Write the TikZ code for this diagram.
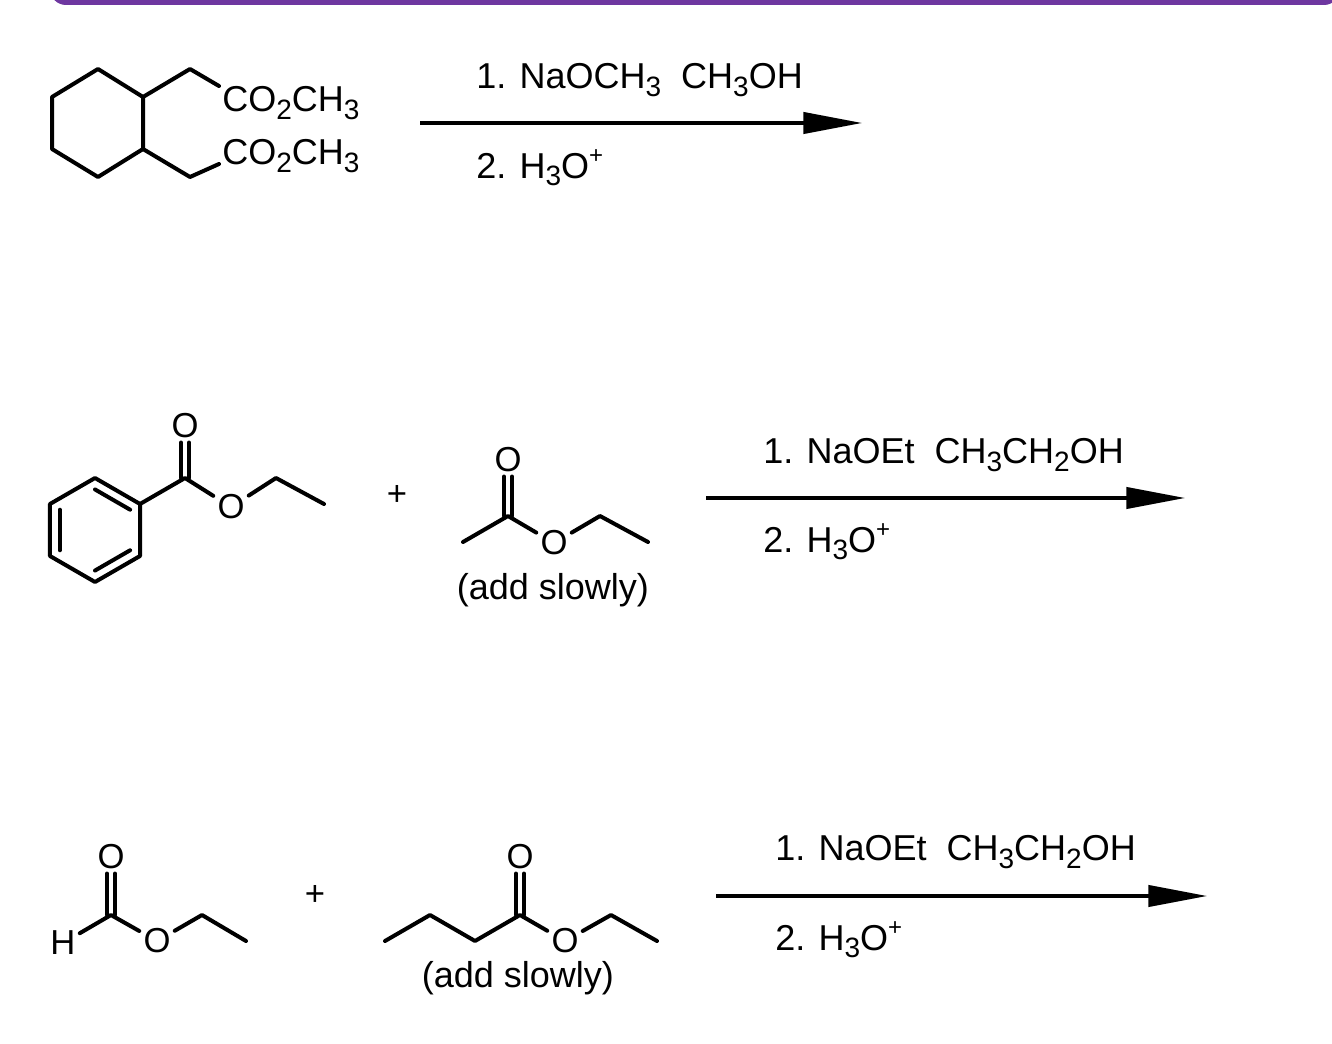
\documentclass[tikz,border=0pt]{standalone}
\usepackage{fontspec}
\setmainfont{Liberation Sans}
\usetikzlibrary{calc,arrows.meta}
\newcommand{\sbs}[1]{\raisebox{-0.22em}{\fontsize{21}{21}\selectfont #1}}
\newcommand{\sps}[1]{\raisebox{0.4em}{\fontsize{18}{18}\selectfont #1}}
\begin{document}
\begin{tikzpicture}[x=0.75pt,y=-0.75pt,
  bond/.style={line width=3pt,line cap=round,line join=round},
  atom/.style={font=\fontsize{26}{30}\selectfont,inner sep=3pt},
  lbl/.style={font=\fontsize{27}{30}\selectfont,inner sep=0pt,anchor=west},
  rxn/.style={line width=2.3pt,-{Stealth[length=44pt,width=16pt,inset=0pt]}}]
\useasboundingbox (0,0) rectangle (1332,1044);
\fill[fill={rgb,255:red,110;green,55;blue,160}] (50,-30) [rounded corners=12pt] -- (50,5) -- (1340,5) [sharp corners] -- (1340,-30) -- cycle;
% ---- reaction 1
\coordinate (h1) at (98,69); \coordinate (h2) at (143,97); \coordinate (h3) at (143,149);
\coordinate (h4) at (98,177); \coordinate (h5) at (52,149); \coordinate (h6) at (52,97);
\draw[bond] (h1)--(h2)--(h3)--(h4)--(h5)--(h6)--cycle;
\coordinate (s1) at (190,69); \coordinate (s2) at (190,177);
\node[lbl] (e1) at (222,103) {CO\sbs{2}CH\sbs{3}};
\node[lbl] (e2) at (222,156) {CO\sbs{2}CH\sbs{3}};
\draw[bond] (h2)--(s1)--($(e1.west)+(-3,-17)$);
\draw[bond] (h3)--(s2)--($(e2.west)+(-3,8)$);
\coordinate (a1s) at (420,123); \coordinate (a1e) at (862,123);
\draw[rxn] (a1s)--(a1e);
\node[lbl] (r1a) at (476,80) {1. NaOCH\sbs{3}\ \ CH\sbs{3}OH};
\node[lbl] (r1b) at (476,168) {2. H\sbs{3}O\sps{+}};
% ---- reaction 2: ethyl benzoate
\coordinate (bc) at (95,530);
\foreach \i/\a in {1/90,2/30,3/-30,4/-90,5/-150,6/150} \coordinate (b\i) at ($(bc)+({52*cos(\a)},{-52*sin(\a)})$);
\draw[bond] (b1)--(b2)--(b3)--(b4)--(b5)--(b6)--cycle;
\draw[bond] ($(bc)!0.78!(b1)$)--($(bc)!0.78!(b2)$);
\draw[bond] ($(bc)!0.78!(b3)$)--($(bc)!0.78!(b4)$);
\draw[bond] ($(bc)!0.78!(b5)$)--($(bc)!0.78!(b6)$);
\coordinate (bk) at (185,478);
\node[atom] (bo) at (185,426) {O};
\node[atom] (bx) at (231,507) {O};
\coordinate (bm) at (276,478); \coordinate (bn) at (324,504);
\draw[bond] (b2)--(bk)--(bx)--(bm)--(bn);
\draw[bond] ([xshift=-3pt]bk) -- ([xshift=-3pt]bo.south);
\draw[bond] ([xshift=3pt]bk) -- ([xshift=3pt]bo.south);
\node[atom] (p2) at (397,495) {+};
% ethyl acetate
\coordinate (a0) at (463,542); \coordinate (ak) at (508,516);
\node[atom] (ao) at (508,460) {O};
\node[atom] (ax) at (554,543) {O};
\coordinate (am) at (600,516); \coordinate (an) at (648,542);
\draw[bond] (a0)--(ak)--(ax)--(am)--(an);
\draw[bond] ([xshift=-3pt]ak) -- ([xshift=-3pt]ao.south);
\draw[bond] ([xshift=3pt]ak) -- ([xshift=3pt]ao.south);
\node[atom] (as) at (553,590) {\fontsize{27}{30}\selectfont(add slowly)};
\coordinate (a2s) at (706,498); \coordinate (a2e) at (1185,498);
\draw[rxn] (a2s)--(a2e);
\node[lbl] (r2a) at (763,455) {1. NaOEt\ \ CH\sbs{3}CH\sbs{2}OH};
\node[lbl] (r2b) at (763,542) {2. H\sbs{3}O\sps{+}};
% ---- reaction 3: ethyl formate
\node[atom] (fh) at (63,943) {H};
\coordinate (fk) at (111,915);
\node[atom] (fo) at (111,857) {O};
\node[atom] (fx) at (157,941) {O};
\coordinate (fm) at (202,915); \coordinate (fn) at (246,941);
\draw[bond] (fh)--(fk)--(fx)--(fm)--(fn);
\draw[bond] ([xshift=-3pt]fk) -- ([xshift=-3pt]fo.south);
\draw[bond] ([xshift=3pt]fk) -- ([xshift=3pt]fo.south);
\node[atom] (p3) at (315,895) {+};
% ethyl butanoate
\coordinate (u1) at (385,941); \coordinate (u2) at (430,915); \coordinate (u3) at (475,941);
\coordinate (uk) at (520,915);
\node[atom] (uo) at (520,857) {O};
\node[atom] (ux) at (565,941) {O};
\coordinate (um) at (611,915); \coordinate (un) at (657,941);
\draw[bond] (u1)--(u2)--(u3)--(uk)--(ux)--(um)--(un);
\draw[bond] ([xshift=-3pt]uk) -- ([xshift=-3pt]uo.south);
\draw[bond] ([xshift=3pt]uk) -- ([xshift=3pt]uo.south);
\node[atom] (us) at (518,978) {\fontsize{27}{30}\selectfont(add slowly)};
\coordinate (a3s) at (716,896); \coordinate (a3e) at (1207,896);
\draw[rxn] (a3s)--(a3e);
\node[lbl] (r3a) at (775,852) {1. NaOEt\ \ CH\sbs{3}CH\sbs{2}OH};
\node[lbl] (r3b) at (775,940) {2. H\sbs{3}O\sps{+}};
\end{tikzpicture}
\end{document}
